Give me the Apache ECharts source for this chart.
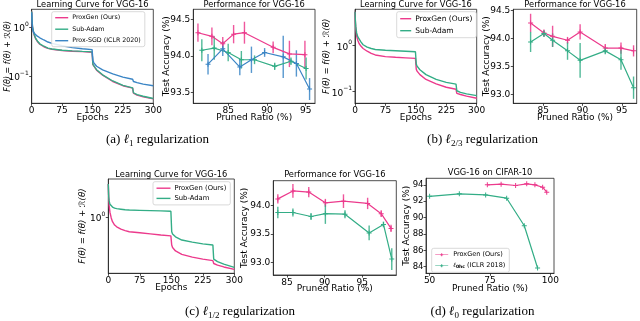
<!DOCTYPE html>
<html>
<head>
<meta charset="utf-8">
<script src="https://cdn.jsdelivr.net/npm/echarts@6/dist/echarts.min.js"></script>
<style>
html, body { margin: 0; padding: 0; background: #fff; }
#result { width: 640px; height: 321px; }
</style>
</head>
<body>
<div id="result"></div>
<script>
var PINK = '#ec3a8c', GREEN = '#33ad86', BLUE = '#3a85c5';
var FONT = 'DejaVu Sans';

// learning curves: shared epoch grid
var epochs = [0, 1, 2, 4, 7, 10, 15, 20, 30, 40, 50, 75, 100, 125, 149, 151, 153, 156, 160, 175, 200, 225, 249, 251, 253, 260, 275, 300];
var lcA_proxgen = [2.1, 1.3, 1.0, 0.82, 0.66, 0.58, 0.50, 0.45, 0.40, 0.37, 0.355, 0.335, 0.325, 0.318, 0.31, 0.172, 0.16, 0.15, 0.133, 0.105, 0.078, 0.064, 0.057, 0.045, 0.043, 0.041, 0.038, 0.0345];
var lcA_subadam = [2.1, 1.35, 1.05, 0.84, 0.68, 0.59, 0.51, 0.46, 0.41, 0.375, 0.36, 0.34, 0.33, 0.322, 0.315, 0.175, 0.163, 0.152, 0.136, 0.107, 0.08, 0.065, 0.058, 0.046, 0.044, 0.042, 0.039, 0.035];
var lcA_proxsgd = [2.0, 1.2, 0.95, 0.80, 0.74, 0.70, 0.65, 0.61, 0.55, 0.50, 0.47, 0.42, 0.385, 0.365, 0.35, 0.21, 0.19, 0.175, 0.16, 0.135, 0.112, 0.096, 0.087, 0.078, 0.076, 0.074, 0.069, 0.064];
var lcB_proxgen = [5.5, 3.2, 2.3, 1.65, 1.3, 1.12, 0.97, 0.87, 0.76, 0.68, 0.63, 0.58, 0.56, 0.545, 0.53, 0.31, 0.28, 0.26, 0.235, 0.185, 0.148, 0.125, 0.113, 0.092, 0.09, 0.087, 0.08, 0.072];
var lcB_subadam = [5.5, 3.5, 2.6, 1.9, 1.55, 1.42, 1.2, 1.05, 0.93, 0.87, 0.83, 0.8, 0.78, 0.76, 0.74, 0.4, 0.36, 0.33, 0.3, 0.235, 0.185, 0.16, 0.146, 0.105, 0.1, 0.097, 0.09, 0.082];
var lcC_proxgen = [2.6, 1.8, 1.4, 1.15, 0.98, 0.88, 0.8, 0.76, 0.71, 0.68, 0.66, 0.64, 0.62, 0.6, 0.585, 0.45, 0.42, 0.4, 0.38, 0.345, 0.318, 0.3, 0.288, 0.265, 0.26, 0.253, 0.24, 0.224];
var lcC_subadam = [2.6, 1.8, 1.6, 1.45, 1.38, 1.34, 1.3, 1.28, 1.26, 1.24, 1.23, 1.22, 1.21, 1.2, 1.19, 0.66, 0.62, 0.59, 0.57, 0.52, 0.49, 0.465, 0.45, 0.3, 0.29, 0.28, 0.26, 0.237];

// performance (a) l1
var pfA_pgX = [81.1, 82.9, 84.3, 85.7, 87.1, 90.8, 92.9, 94.9];
var pfA_pgY = [94.32, 94.27, 94.17, 94.30, 94.32, 94.12, 94.03, 94.02];
var pfA_pgE = [0.125, 0.12, 0.09, 0.125, 0.15, 0.08, 0.18, 0.19];
var pfA_saX = [81.6, 83.2, 85.0, 86.7, 88.4, 91.0, 93.1, 95.05];
var pfA_saY = [94.08, 94.11, 94.05, 93.95, 93.95, 93.86, 93.93, 93.83];
var pfA_saE = [0.15, 0.16, 0.12, 0.12, 0.06, 0.05, 0.05, 0.15];
var pfA_psX = [82.4, 84.3, 86.5, 88.0, 89.7, 92.1, 93.8, 95.5];
var pfA_psY = [93.89, 94.10, 93.85, 93.95, 94.05, 93.99, 93.90, 93.55];
var pfA_psE = [0.14, 0.10, 0.11, 0.18, 0.06, 0.29, 0.18, 0.15];

// performance (b) l2/3
var pfB_X = [83.4, 85.1, 86.2, 88.1, 89.7, 92.9, 94.9, 96.5];
var pfB_pgY = [94.28, 94.10, 94.04, 93.97, 94.12, 93.83, 93.83, 93.78];
var pfB_pgE = [0.165, 0.065, 0.19, 0.06, 0.135, 0.075, 0.1, 0.1];
var pfB_saY = [93.94, 94.09, 93.97, 93.78, 93.61, 93.78, 93.62, 93.12];
var pfB_saE = [0.18, 0.06, 0.12, 0.16, 0.31, 0.06, 0.18, 0.2];

// performance (c) l1/2
var pfC_pgX = [83.8, 85.8, 87.9, 90.1, 92.5, 95.7, 97.5, 98.8];
var pfC_pgY = [94.12, 94.26, 94.24, 94.05, 94.08, 94.04, 93.86, 93.6];
var pfC_pgE = [0.08, 0.12, 0.09, 0.07, 0.12, 0.1, 0.06, 0.065];
var pfC_saX = [83.8, 85.8, 88.2, 90.1, 92.7, 95.9, 97.8, 98.9];
var pfC_saY = [93.88, 93.88, 93.81, 93.86, 93.85, 93.52, 93.67, 93.06];
var pfC_saE = [0.1, 0.07, 0.06, 0.18, 0.07, 0.13, 0.05, 0.19];

// (d) l0 on CIFAR-10
var pfD_pgX = [73.9, 79.6, 85.6, 90.2, 93.6, 96.8, 98.5];
var pfD_pgY = [94.0, 94.08, 93.92, 94.12, 94.0, 93.71, 93.1];
var pfD_hcX = [50, 62.3, 73.2, 81.9, 89.2, 94.7];
var pfD_hcY = [92.6, 92.9, 92.77, 92.37, 89.0, 83.85];

var pfTicksX = [85, 90, 95];
var pfTicksY_A = [93.5, 94.0, 94.5];
var pfTicksY_BC = [93.0, 93.5, 94.0, 94.5];
var dTicksX = [50, 75, 100];
var dTicksY = [84, 86, 88, 90, 92, 94];

var PLUS = 'path://M4,0H6V4H10V6H6V10H4V6H0V4H4Z';

function pairs(xs, ys) {
	return xs.map(function (x, i) { return [x, ys[i]]; });
}

var AXLINE = {show: true, onZero: false, lineStyle: {color: '#222', width: 0.8}};
var TICK = {show: true, length: 2.5, lineStyle: {color: '#222', width: 0.8}};

function nameStyle(extra) {
	var s = {fontSize: 9, fontFamily: FONT, color: '#000'};
	for (var k in extra) s[k] = extra[k];
	return s;
}

function lcX(g) {
	return {
		type: 'value', gridIndex: g, min: 0, max: 300, interval: 75,
		name: 'Epochs', nameLocation: 'middle', nameGap: 9.5, nameMoveOverlap: false, nameTextStyle: nameStyle({}),
		axisLine: AXLINE, axisTick: TICK, splitLine: {show: false},
		axisLabel: {fontSize: 9, fontFamily: FONT, color: '#000', margin: 3}
	};
}

// log axis: only exact decades get a label
function lcY(g, min, max, gap, fs) {
	return {
		type: 'log', logBase: 10, gridIndex: g, min: min, max: max,
		name: 'F(θ) = f(θ) + ℛ(θ)', nameLocation: 'middle', nameGap: gap, nameMoveOverlap: false,
		nameTextStyle: nameStyle({fontSize: fs, fontStyle: 'italic'}),
		axisLine: AXLINE, splitLine: {show: false}, axisTick: TICK,
		axisLabel: {
			margin: 3, showMinLabel: false, showMaxLabel: false,
			formatter: function (v) {
				var l = Math.log(v) / Math.LN10, e = Math.round(l);
				if (Math.abs(l - e) > 1e-6) return '';
				return '{b|10}{p|' + (e < 0 ? '\u2212' + (-e) : e) + '}';
			},
			rich: {
				b: {fontSize: 9, fontFamily: FONT, color: '#000', lineHeight: 12, verticalAlign: 'bottom'},
				p: {fontSize: 6, fontFamily: FONT, color: '#000', lineHeight: 6, verticalAlign: 'top'}
			}
		}
	};
}

function pfX(g, min, max, ticks, gap) {
	return {
		type: 'value', gridIndex: g, min: min, max: max,
		name: 'Pruned Ratio (%)', nameLocation: 'middle', nameGap: gap, nameMoveOverlap: false, nameTextStyle: nameStyle({}),
		axisLine: AXLINE, splitLine: {show: false},
		axisTick: {show: true, length: 2.5, lineStyle: {color: '#222', width: 0.8}, customValues: ticks},
		axisLabel: {customValues: ticks, fontSize: 9, fontFamily: FONT, color: '#000', margin: 3}
	};
}

function pfY(g, min, max, ticks, gap, dec, fs, margin) {
	return {
		type: 'value', gridIndex: g, min: min, max: max,
		name: 'Test Accuracy (%)', nameLocation: 'middle', nameGap: gap, nameMoveOverlap: false, nameTextStyle: nameStyle({}),
		axisLine: AXLINE, splitLine: {show: false},
		axisTick: {show: true, length: 2.5, lineStyle: {color: '#222', width: 0.8}, customValues: ticks},
		axisLabel: {
			customValues: ticks, fontSize: fs || 9, fontFamily: FONT, color: '#000', margin: margin || 3,
			formatter: function (v) { return v.toFixed(dec); }
		}
	};
}

function lcLine(g, name, ys, color) {
	return {
		type: 'line', name: name, xAxisIndex: g, yAxisIndex: g,
		data: pairs(epochs, ys), showSymbol: false, symbol: 'none',
		lineStyle: {color: color, width: 1.4}, itemStyle: {color: color}
	};
}

function pfLine(g, name, xs, ys, color) {
	return {
		type: 'line', name: name, xAxisIndex: g, yAxisIndex: g,
		data: pairs(xs, ys), symbol: PLUS, symbolSize: 5,
		lineStyle: {color: color, width: 1.2}, itemStyle: {color: color}, z: 3
	};
}

function errBars(g, xs, ys, es, color) {
	return {
		type: 'custom', name: 'err', xAxisIndex: g, yAxisIndex: g, silent: true, z: 2,
		data: xs.map(function (x, i) { return [x, ys[i] - es[i], ys[i] + es[i]]; }),
		encode: {x: 0, y: [1, 2]},
		renderItem: function (params, api) {
			var p0 = api.coord([api.value(0), api.value(1)]);
			var p1 = api.coord([api.value(0), api.value(2)]);
			return {
				type: 'line',
				shape: {x1: p0[0], y1: p0[1], x2: p1[0], y2: p1[1]},
				style: {stroke: color, lineWidth: 1.4, opacity: 0.85}
			};
		}
	};
}

function grid(l, t, w, h) {
	return {left: l, top: t, width: w, height: h, show: true, borderColor: '#222', borderWidth: 0.8,
		backgroundColor: 'transparent', outerBoundsMode: 'none'};
}

function legend(l, t, names, fs, iw, gap, extra) {
	var o = {
		left: l, top: t, orient: 'vertical', data: names, icon: 'rect',
		itemWidth: iw, itemHeight: 1.4, itemGap: gap, padding: [3, 4, 3, 3.5],
		textStyle: {fontSize: fs, fontFamily: FONT, color: '#000', padding: [0, 0, 0, -1]},
		borderColor: '#cfcfcf', borderWidth: 0.8, borderRadius: 2,
		backgroundColor: 'rgba(255,255,255,0.85)', selectedMode: false
	};
	for (var k in extra) o[k] = extra[k];
	return o;
}

function label(x, y, text, size, family, rich) {
	return {
		type: 'text', x: x, y: y, silent: true,
		style: {
			text: text, fontSize: size, fontFamily: family, fill: '#000',
			align: 'center', verticalAlign: 'middle', textAlign: 'center', textVerticalAlign: 'middle',
			rich: rich
		}
	};
}

var capRich = {
	t: {fontSize: 13, fontFamily: 'Liberation Serif', color: '#000', lineHeight: 15, verticalAlign: 'top'},
	l: {fontSize: 13, fontFamily: 'DejaVu Serif', fontStyle: 'italic', color: '#000', lineHeight: 15, verticalAlign: 'top'},
	s: {fontSize: 9, fontFamily: 'Liberation Serif', color: '#000', lineHeight: 8, verticalAlign: 'bottom'}
};

var myChart = echarts.init(document.getElementById('result'));

var option = {
	animation: false,
	backgroundColor: '#fff',
	grid: [
		grid(31.7, 9.3, 121.6, 94),
		grid(193.3, 9.3, 121.7, 94),
		grid(355, 9.3, 121.7, 94),
		grid(513.3, 9.3, 123.4, 94),
		grid(108.3, 179, 126, 94.3),
		grid(273.3, 180.7, 123, 94.3),
		grid(426, 178.3, 128, 95)
	],
	xAxis: [
		lcX(0),
		pfX(1, 80.5, 96.2, pfTicksX, 9.5),
		lcX(2),
		pfX(3, 81.2, 96.9, pfTicksX, 9.5),
		lcX(4),
		pfX(5, 83.2, 99.5, pfTicksX, 9),
		pfX(6, 48.5, 101.5, dTicksX, 10.5)
	],
	yAxis: [
		lcY(0, 0.028, 2.33, 20, 8),
		pfY(1, 93.355, 94.64, pfTicksY_A, 22, 1),
		lcY(2, 0.056, 6.2, 23.5, 8.5),
		pfY(3, 92.84, 94.525, pfTicksY_BC, 22, 1),
		lcY(4, 0.2, 3.0, 21, 8.5),
		pfY(5, 92.78, 94.44, pfTicksY_BC, 24, 1),
		pfY(6, 83.2, 94.8, dTicksY, 15, 0, 8.5, 2.5)
	],
	legend: [
		legend(51.7, 11.7, ['ProxGen (Ours)', 'Sub-Adam', 'Prox-SGD (ICLR 2020)'], 6.3, 13, 5.5, {}),
		legend(396.7, 11.7, ['ProxGen (Ours)', 'Sub-Adam'], 7.5, 11, 4, {}),
		legend(153, 181.7, ['ProxGen (Ours)', 'Sub-Adam'], 6.8, 14, 3.2, {}),
		legend(431.7, 248.3, ['ProxGen (Ours)', 'ℓ0hc (ICLR 2018)'], 6.5, 13, 4, {
			icon: 'path://M0,4.4H26V5.6H0Z M12,2H14V8H12Z M10,4H16V6H10Z', itemHeight: 5,
			formatter: function (n) {
				return n === 'ℓ0hc (ICLR 2018)' ? '{i|ℓ}{s|0hc} (ICLR 2018)' : n;
			},
			textStyle: {
				fontSize: 6.5, fontFamily: FONT, color: '#000',
				rich: {
					i: {fontSize: 6.5, fontFamily: 'DejaVu Serif', fontStyle: 'italic', fontWeight: 'bold', color: '#000'},
					s: {fontSize: 4.5, fontFamily: FONT, fontWeight: 'bold', color: '#000', verticalAlign: 'bottom', lineHeight: 5}
				}
			}
		})
	],
	graphic: [
		label(92.5, 5, 'Learning Curve for VGG-16', 8.3, FONT),
		label(254.2, 5, 'Performance for VGG-16', 8.3, FONT),
		label(415.9, 5, 'Learning Curve for VGG-16', 8.3, FONT),
		label(575, 5, 'Performance for VGG-16', 8.3, FONT),
		label(171.3, 174.5, 'Learning Curve for VGG-16', 8.3, FONT),
		label(334.8, 175, 'Performance for VGG-16', 8.3, FONT),
		label(490, 173.3, 'VGG-16 on CIFAR-10', 8.3, FONT),
		label(157.5, 141, '{t|(a) }{l|ℓ}{s|1}{t| regularization}', 13, 'Liberation Serif', capRich),
		label(482.5, 141, '{t|(b) }{l|ℓ}{s|2/3}{t| regularization}', 13, 'Liberation Serif', capRich),
		label(240, 312.5, '{t|(c) }{l|ℓ}{s|1/2}{t| regularization}', 13, 'Liberation Serif', capRich),
		label(482.5, 312.5, '{t|(d) }{l|ℓ}{s|0}{t| regularization}', 13, 'Liberation Serif', capRich)
	],
	series: [
		lcLine(0, 'ProxGen (Ours)', lcA_proxgen, PINK),
		lcLine(0, 'Sub-Adam', lcA_subadam, GREEN),
		lcLine(0, 'Prox-SGD (ICLR 2020)', lcA_proxsgd, BLUE),

		errBars(1, pfA_pgX, pfA_pgY, pfA_pgE, PINK),
		errBars(1, pfA_saX, pfA_saY, pfA_saE, GREEN),
		errBars(1, pfA_psX, pfA_psY, pfA_psE, BLUE),
		pfLine(1, 'ProxGen (Ours)', pfA_pgX, pfA_pgY, PINK),
		pfLine(1, 'Sub-Adam', pfA_saX, pfA_saY, GREEN),
		pfLine(1, 'Prox-SGD (ICLR 2020)', pfA_psX, pfA_psY, BLUE),

		lcLine(2, 'ProxGen (Ours)', lcB_proxgen, PINK),
		lcLine(2, 'Sub-Adam', lcB_subadam, GREEN),

		errBars(3, pfB_X, pfB_pgY, pfB_pgE, PINK),
		errBars(3, pfB_X, pfB_saY, pfB_saE, GREEN),
		pfLine(3, 'ProxGen (Ours)', pfB_X, pfB_pgY, PINK),
		pfLine(3, 'Sub-Adam', pfB_X, pfB_saY, GREEN),

		lcLine(4, 'ProxGen (Ours)', lcC_proxgen, PINK),
		lcLine(4, 'Sub-Adam', lcC_subadam, GREEN),

		errBars(5, pfC_pgX, pfC_pgY, pfC_pgE, PINK),
		errBars(5, pfC_saX, pfC_saY, pfC_saE, GREEN),
		pfLine(5, 'ProxGen (Ours)', pfC_pgX, pfC_pgY, PINK),
		pfLine(5, 'Sub-Adam', pfC_saX, pfC_saY, GREEN),

		pfLine(6, 'ProxGen (Ours)', pfD_pgX, pfD_pgY, PINK),
		pfLine(6, 'ℓ0hc (ICLR 2018)', pfD_hcX, pfD_hcY, GREEN)
	]
};

myChart.setOption(option);
</script>
</body>
</html>
